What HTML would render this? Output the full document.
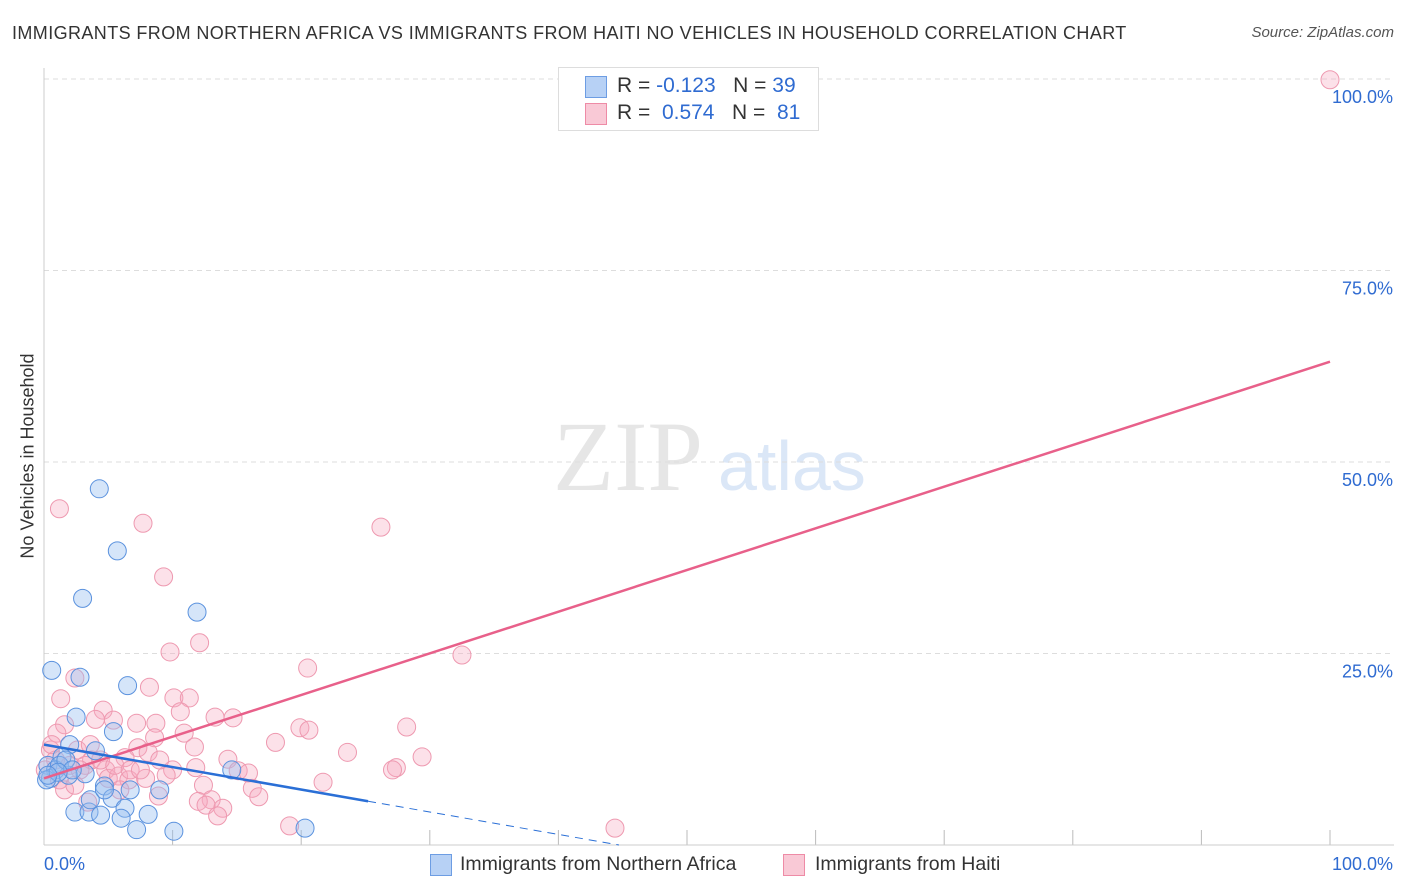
<!DOCTYPE html>
<html><head><meta charset="utf-8"><style>
body{margin:0;background:#fff;font-family:"Liberation Sans",sans-serif;}
#wrap{position:relative;width:1406px;height:892px;overflow:hidden;}
.t{position:absolute;white-space:nowrap;}
</style></head><body>
<div id="wrap">
<div class="t" style="left:12px;top:23px;font-size:18px;letter-spacing:0.4px;color:#333;">IMMIGRANTS FROM NORTHERN AFRICA VS IMMIGRANTS FROM HAITI NO VEHICLES IN HOUSEHOLD CORRELATION CHART</div>
<div class="t" style="right:12px;top:24px;font-size:15px;color:#555;font-style:italic;">Source: ZipAtlas.com</div>
<div class="t" style="left:28px;top:456px;font-size:18px;color:#333;transform:translate(-50%,-50%) rotate(-90deg);">No Vehicles in Household</div>
<svg id="plot" width="1406" height="892" style="position:absolute;left:0;top:0"></svg>
<div style="position:absolute;left:558px;top:67px;width:259px;height:62px;border:1px solid #ddd;background:#fff;font-size:21px;">
 <div style="position:absolute;left:26px;top:8px;width:20px;height:20px;background:#b7d1f5;border:1px solid #6d9de3;"></div>
 <div class="t" style="left:58px;top:6px;color:#333;">R = <span style="color:#2f6bd1">-0.123</span>&nbsp;&nbsp;&nbsp;N = <span style="color:#2f6bd1">39</span></div>
 <div style="position:absolute;left:26px;top:35px;width:20px;height:20px;background:#f9c9d6;border:1px solid #ee8ba6;"></div>
 <div class="t" style="left:58px;top:33px;color:#333;">R = &nbsp;<span style="color:#2f6bd1">0.574</span>&nbsp;&nbsp;&nbsp;N = &nbsp;<span style="color:#2f6bd1">81</span></div>
</div>
<div style="position:absolute;left:430px;top:853px;">
 <div style="position:absolute;left:0;top:1px;width:20px;height:20px;background:#b7d1f5;border:1px solid #6d9de3;"></div>
 <div class="t" style="left:30px;top:0;font-size:19.5px;color:#333;">Immigrants from Northern Africa</div></div>
<div style="position:absolute;left:783px;top:853px;">
 <div style="position:absolute;left:0;top:1px;width:20px;height:20px;background:#f9c9d6;border:1px solid #ee8ba6;"></div>
 <div class="t" style="left:32px;top:0;font-size:19.5px;color:#333;">Immigrants from Haiti</div></div>
</div>
<script>
const yTicks=[25,50,75,100];
const yTickLabels=["25.0%","50.0%","75.0%","100.0%"];
const xTicks=[10,20,30,40,50,60,70,80,90,100];
const blueX=[4.3,5.7,3.0,11.9,0.6,2.8,6.5,2.5,5.4,0.3,4.0,2.0,1.4,0.9,0.5,1.9,3.2,14.6,4.7,6.7,9.0,5.3,6.3,2.4,3.5,4.4,8.1,6.0,7.2,10.1,20.3,1.2,1.7,0.2,3.6,4.7,2.2,1.1,0.3];
const blueY=[46.5,38.4,32.2,30.4,22.8,21.9,20.8,16.7,14.8,10.4,12.3,13.1,11.5,9.8,8.7,9.1,9.3,9.8,7.7,7.2,7.2,6.1,4.8,4.3,4.3,3.9,4.0,3.5,2.0,1.8,2.2,10.4,11.1,8.5,5.9,7.2,9.8,9.5,9.1];
const pinkX=[1.2,7.7,9.3,26.2,12.1,9.8,20.5,32.5,8.2,1.3,10.1,11.3,2.4,10.6,4.6,4.0,1.6,5.4,7.2,8.7,13.3,14.7,28.2,19.9,20.6,1.0,10.9,18.0,8.6,11.7,7.3,8.1,23.6,14.3,29.4,6.3,2.6,3.7,27.4,27.1,15.1,15.9,10.0,11.8,4.8,3.2,5.0,5.8,6.6,7.9,9.5,12.4,16.2,21.7,8.9,13.0,16.7,13.9,12.0,12.6,13.5,3.4,19.1,44.4,100,0.5,0.9,0.6,2.0,2.8,1.2,4.4,5.5,6.7,3.6,1.6,7.5,0.1,2.4,9.0,5.9];
const pinkY=[43.9,42.0,35.0,41.5,26.4,25.2,23.1,24.8,20.6,19.1,19.2,19.2,21.8,17.4,17.6,16.4,15.7,16.3,15.9,15.9,16.7,16.6,15.4,15.3,15.0,14.6,14.6,13.4,14.0,12.8,12.7,12.1,12.1,11.2,11.5,11.4,12.4,11.1,10.1,9.8,9.7,9.4,9.8,10.1,9.8,10.4,8.7,9.0,8.5,8.7,9.1,7.8,7.4,8.2,6.4,5.9,6.3,4.8,5.7,5.2,3.8,5.6,2.5,2.2,99.9,12.4,11.1,13.1,10.4,9.8,8.5,11.1,10.4,9.8,13.1,7.2,9.8,9.8,7.8,11.1,7.2];
const blueFit=[13.1,-0.293];
const pinkFit=[8.7,0.544];
const X=v=>44+v*12.86, Y=v=>845-v*7.66;
const svg=document.getElementById('plot');const NS='http://www.w3.org/2000/svg';
function mk(tag,attrs){const e=document.createElementNS(NS,tag);for(const k in attrs)e.setAttribute(k,attrs[k]);svg.appendChild(e);return e;}
let wm=mk('text',{x:553,y:490,'font-size':100,fill:'#e6e6e6','font-family':'Liberation Serif'});wm.textContent='ZIP';


let wm2=mk('text',{x:718,y:490,'font-size':70,fill:'#dbe7f7','font-family':'Liberation Sans'});wm2.textContent='atlas';


yTicks.forEach((t,i)=>{
 let g=mk('line',{x1:44,x2:1394,y1:Y(t),y2:Y(t),stroke:'#ddd','stroke-dasharray':'5,4'});
 
 
 let l=mk('text',{x:1393,y:Y(t)+24,'text-anchor':'end','font-size':18,fill:'#2f6bd1'});l.textContent=yTickLabels[i];
 
 
});
xTicks.forEach(t=>{let l=mk('line',{x1:X(t),x2:X(t),y1:830,y2:845,stroke:'#bbb'});
 
 });
mk('line',{x1:44,x2:44,y1:68,y2:845,stroke:'#ccc'});
mk('line',{x1:44,x2:1394,y1:845,y2:845,stroke:'#ccc'});
let x0=mk('text',{x:44,y:870,'font-size':18,fill:'#2f6bd1'});x0.textContent='0.0%';


let x1=mk('text',{x:1393,y:870,'text-anchor':'end','font-size':18,fill:'#2f6bd1'});x1.textContent='100.0%';


pinkX.forEach((v,i)=>{let c=mk('circle',{cx:X(v),cy:Y(pinkY[i]),r:9,fill:'rgba(246,170,192,0.35)',stroke:'#ee99b0','stroke-width':1});
 
 });
blueX.forEach((v,i)=>{let c=mk('circle',{cx:X(v),cy:Y(blueY[i]),r:9,fill:'rgba(150,190,240,0.4)',stroke:'#5b92de','stroke-width':1});
 
 });
let pl=mk('line',{x1:X(0),y1:Y(pinkFit[0]),x2:X(100),y2:Y(pinkFit[0]+pinkFit[1]*100),stroke:'#e8608a','stroke-width':2.5});


const bEnd=25.2, bZero=-blueFit[0]/blueFit[1];
let bl=mk('line',{x1:X(0),y1:Y(blueFit[0]),x2:X(bEnd),y2:Y(blueFit[0]+blueFit[1]*bEnd),stroke:'#2a6fd6','stroke-width':2.5});


let bd=mk('line',{x1:X(bEnd),y1:Y(blueFit[0]+blueFit[1]*bEnd),x2:X(bZero),y2:Y(0),stroke:'#2a6fd6','stroke-width':1,'stroke-dasharray':'8,6'});


</script>
</body></html>
